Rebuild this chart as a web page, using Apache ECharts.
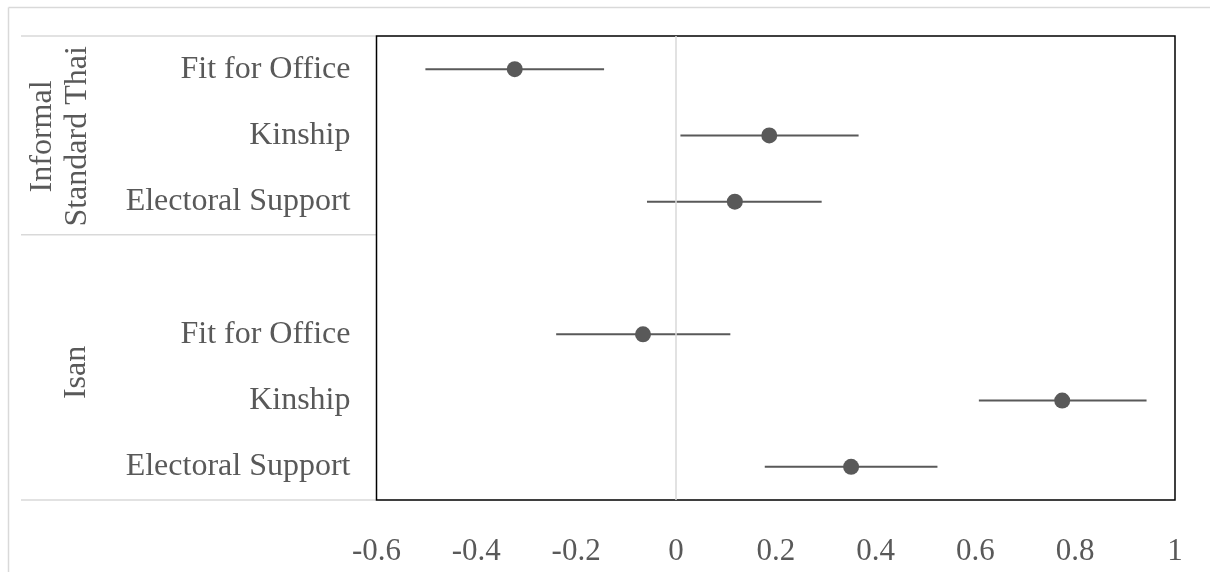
<!DOCTYPE html>
<html>
<head>
<meta charset="utf-8">
<script src="https://cdn.jsdelivr.net/npm/echarts@6/dist/echarts.min.js"></script>
<style>
html,body{margin:0;padding:0;background:#fff;}
#chart{width:1210px;height:572px;}
</style>
</head>
<body>
<div id="chart"></div>
<script>
// ---- data ----
var categories = ['Fit for Office', 'Kinship', 'Electoral Support', '', 'Fit for Office', 'Kinship', 'Electoral Support'];
var estimates = [-0.323, 0.187, 0.118, null, -0.066, 0.774, 0.351];
var lowerCI   = [-0.502, 0.009, -0.058, null, -0.240, 0.607, 0.178];
var upperCI   = [-0.144, 0.366, 0.292, null, 0.109, 0.943, 0.524];
var groupNames = ['Informal\nStandard Thai', 'Isan'];
var groupStart = [0, 3];
var groupEnd   = [2, 6];
var xTicks = [-0.6, -0.4, -0.2, 0, 0.2, 0.4, 0.6, 0.8, 1];

var FONT = '"Liberation Serif", "Times New Roman", serif';
var TXT = '#595959';
var MARK = '#595959';

var pointData = [], barData = [];
for (var i = 0; i < categories.length; i++) {
  if (estimates[i] === null) continue;
  pointData.push([estimates[i], i]);
  barData.push([lowerCI[i], upperCI[i], i]);
}
var groupData = groupNames.map(function (n, k) { return [groupStart[k], groupEnd[k], k]; });

var chart = echarts.init(document.getElementById('chart'), null, {renderer: 'canvas'});
chart.setOption({
  animation: false,
  backgroundColor: '#fff',
  graphic: [
    {type: 'line', shape: {x1: 8.5, y1: 7.5, x2: 1210, y2: 7.5}, style: {stroke: '#d9d9d9', lineWidth: 1.5}, silent: true},
    {type: 'line', shape: {x1: 8.5, y1: 7.5, x2: 8.5, y2: 572}, style: {stroke: '#d9d9d9', lineWidth: 1.5}, silent: true}
  ],
  grid: {left: 376.5, right: 35, top: 36, bottom: 72, show: true, borderColor: '#000', borderWidth: 1.5, backgroundColor: 'transparent', z: 5},
  xAxis: {
    type: 'value', min: -0.6, max: 1, interval: 0.2,
    axisLine: {show: false}, axisTick: {show: false}, splitLine: {show: false},
    axisLabel: {
      color: TXT, fontFamily: FONT, fontSize: 31, margin: 36,
      formatter: function (v) {
        var r = Math.round(v * 10) / 10;
        return xTicks.indexOf(r) >= 0 ? String(r) : '';
      }
    }
  },
  yAxis: {
    type: 'category', data: categories, inverse: true,
    axisLine: {show: false}, axisTick: {show: false}, splitLine: {show: false},
    axisLabel: {color: TXT, fontFamily: FONT, fontSize: 32, margin: 26, padding: [8, 0, 0, 0]}
  },
  series: [
    {
      type: 'line', data: [], silent: true,
      markLine: {
        silent: true, symbol: 'none', label: {show: false},
        lineStyle: {color: '#d9d9d9', width: 1.5, type: 'solid'},
        data: [{xAxis: 0}]
      },
      z: 1
    },
    {
      type: 'custom', data: barData, silent: true, z: 3,
      renderItem: function (params, api) {
        var p1 = api.coord([api.value(0), api.value(2)]);
        var p2 = api.coord([api.value(1), api.value(2)]);
        return {type: 'line', shape: {x1: p1[0], y1: p1[1], x2: p2[0], y2: p2[1]},
                style: {stroke: MARK, lineWidth: 2}};
      }
    },
    {
      type: 'scatter', data: pointData, symbol: 'circle', symbolSize: 16, z: 4,
      itemStyle: {color: MARK, opacity: 1}
    },
    {
      type: 'custom', data: groupData, silent: true, clip: false, z: 2,
      renderItem: function (params, api) {
        var cs = params.coordSys;
        var s = api.value(0), e = api.value(1), k = api.value(2);
        var yTop = api.coord([0, s])[1] - api.size([0, 1])[1] / 2;
        var yBot = api.coord([0, e])[1] + api.size([0, 1])[1] / 2;
        var children = [];
        var xL = 21, xR = cs.x;
        if (k === 0) {
          children.push({type: 'line', shape: {x1: xL, y1: yTop, x2: xR, y2: yTop}, style: {stroke: '#d9d9d9', lineWidth: 1.5}});
        }
        children.push({type: 'line', shape: {x1: xL, y1: yBot, x2: xR, y2: yBot}, style: {stroke: '#d9d9d9', lineWidth: 1.5}});
        var tx = k === 0 ? 60 : 77;
        var ty = (yTop + yBot) / 2 + (k === 0 ? 1 : 5);
        children.push({
          type: 'text', x: tx, y: ty, rotation: Math.PI / 2,
          style: {text: groupNames[k], fill: TXT, font: '32px ' + FONT, align: 'center', verticalAlign: 'middle', lineHeight: 35}
        });
        return {type: 'group', children: children};
      }
    }
  ]
});
</script>
</body>
</html>
